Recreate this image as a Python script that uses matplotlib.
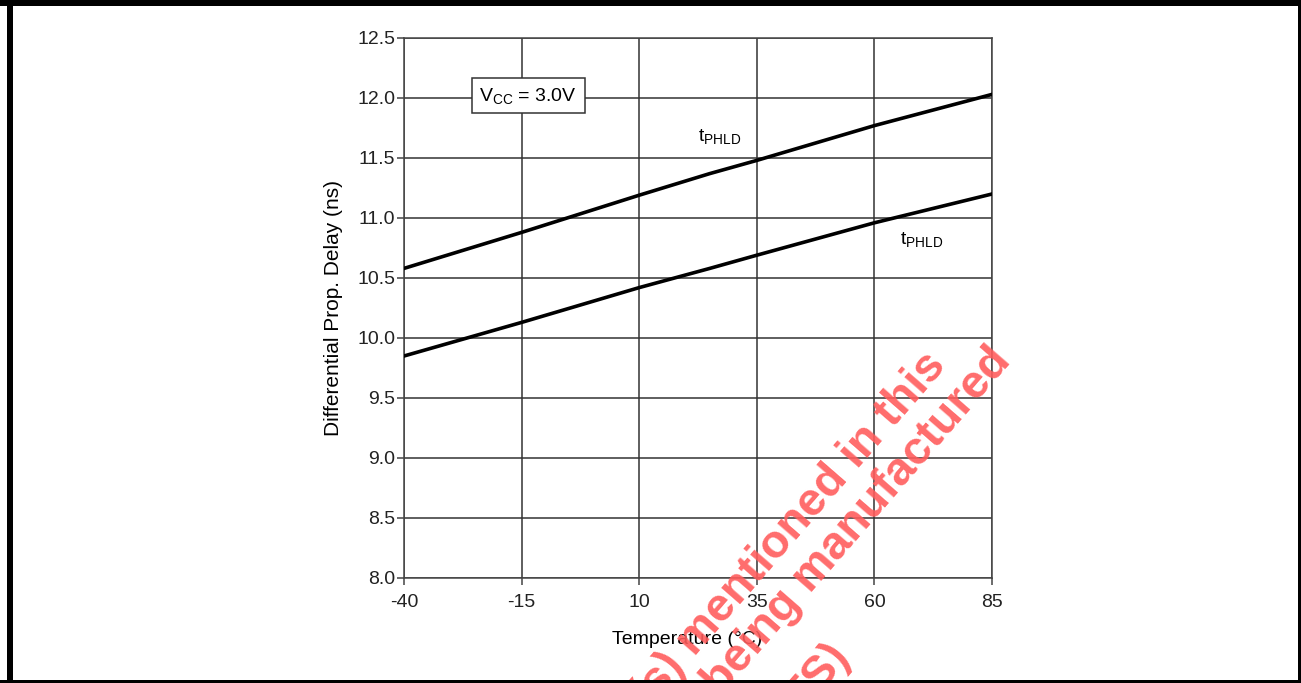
import matplotlib.pyplot as plt
from matplotlib.patches import Rectangle

plt.rcParams['font.family'] = ['Liberation Sans', 'DejaVu Sans']
plt.rcParams['mathtext.default'] = 'regular'
plt.rcParams['axes.unicode_minus'] = False

# values
temp = [-40, -15, 10, 25, 35, 60, 85]
upper = [10.58, 10.88, 11.19, 11.37, 11.48, 11.77, 12.03]
lower = [9.85, 10.13, 10.42, 10.58, 10.69, 10.96, 11.20]
xticks = [-40, -15, 10, 35, 60, 85]
yticks = [8.0, 8.5, 9.0, 9.5, 10.0, 10.5, 11.0, 11.5, 12.0, 12.5]

fig = plt.figure(figsize=(13.01, 6.83), dpi=100)
ax = fig.add_axes([404/1301, 1-578/683, 588/1301, 540/683])

ax.plot(temp, upper, color='black', lw=2.6, zorder=3)
ax.plot(temp, lower, color='black', lw=2.6, zorder=3)

ax.set_xlim(-40, 85)
ax.set_ylim(8.0, 12.5)
ax.set_xticks(xticks)
ax.set_yticks(yticks)
ax.set_yticklabels(['%.1f' % v for v in yticks])
ax.grid(True, color='#333333', lw=1.1, zorder=0)
for s in ax.spines.values():
    s.set_color('#444444')
    s.set_linewidth(1.1)
ax.tick_params(direction='out', length=4.8, width=1.1, color='#444444', labelsize=14,
               labelcolor='#222222')
ax.tick_params(axis='y', pad=1.5)
ax.tick_params(axis='x', pad=6.5)

ax.set_ylabel('Differential Prop. Delay (ns)', fontsize=15, labelpad=10)
ax.set_xlabel('Temperature (°C)', fontsize=14)
ax.xaxis.set_label_coords(0.481, -0.099)

ax.text(-13.6, 12.02, r'V$_{CC}$ = 3.0V', fontsize=14, ha='center', va='center',
        bbox=dict(boxstyle='square,pad=0.4', fc='white', ec='#333333', lw=1.1), zorder=4)
ax.text(27.2, 11.68, r't$_{PHLD}$', fontsize=14, ha='center', va='center')
ax.text(70.1, 10.82, r't$_{PHLD}$', fontsize=14, ha='center', va='center')

# watermark (partly outside the picture, as in the reference)
wm = dict(color='#ff5c5c', alpha=0.9, fontsize=33.5, fontweight='bold', rotation=49,
          rotation_mode='anchor', ha='right', va='baseline', transform=None, zorder=10)
fig.text(947, 683-366, 'Product(s) mentioned in this', **wm)
fig.text(1012, 683-362, 'datasheet are no longer being manufactured', **wm)
fig.text(851, 683-658, '(OBSOLETE PRODUCTS)', **wm)

# black frame round the picture
frame = [(7, 0, 6, 683), (0, 677, 1301, 6), (1298, 0, 3, 683), (0, 0, 1301, 3)]
for x, y, w, h in frame:
    fig.add_artist(Rectangle((x/1301, y/683), w/1301, h/683, transform=fig.transFigure,
                             color='black', lw=0, zorder=20))

fig.savefig('out.png', dpi=100)
